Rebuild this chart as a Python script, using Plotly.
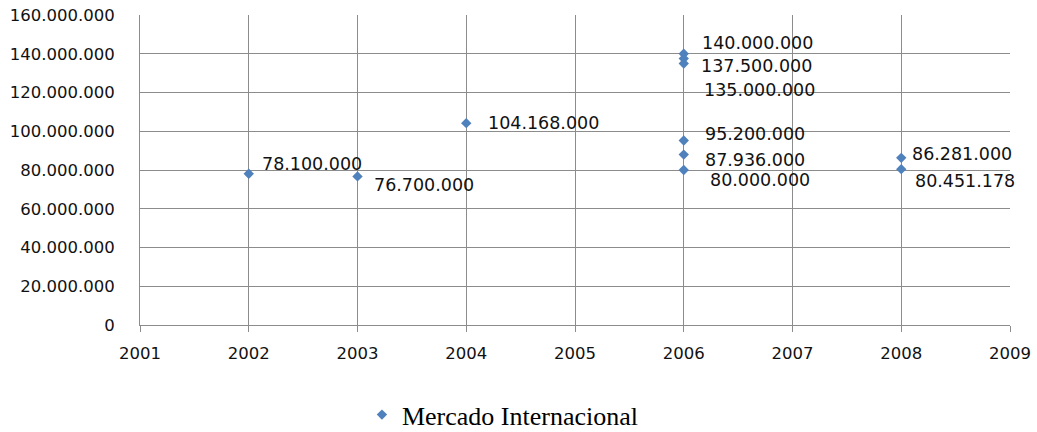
import plotly.graph_objects as go

# Data
years = [2002, 2003, 2004, 2006, 2006, 2006, 2006, 2006, 2006, 2008, 2008]
values = [78100000, 76700000, 104168000, 140000000, 137500000, 135000000,
          95200000, 87936000, 80000000, 86281000, 80451178]
series_name = "Mercado Internacional"
y_ticks = list(range(0, 160000001, 20000000))
x_ticks = list(range(2001, 2010))

# Label offsets in pixels (dx, dy) relative to each point
label_offsets = [(11, -10), (14, 9), (20, 0), (16, -11), (15, 7), (18, 27),
                 (19, -7), (19, 5), (24, 10), (9, -4), (12, 12)]


def fmt(v):
    return f"{v:,}".replace(",", ".")


BLUE = "#4F81BD"
GRID = "#8C8C8C"
FONT = "DejaVu Sans"

fig = go.Figure()
fig.add_trace(go.Scatter(
    x=years, y=values, mode="markers", name=series_name,
    marker=dict(symbol="diamond", size=8, color=BLUE),
    showlegend=True,
))

for x, y, (dx, dy) in zip(years, values, label_offsets):
    fig.add_annotation(
        x=x, y=y, text=fmt(y), showarrow=False,
        xanchor="left", yanchor="middle", xshift=dx, yshift=-dy,
        font=dict(family=FONT, size=17.5, color="#111111"),
    )

fig.update_layout(
    width=1037, height=432,
    margin=dict(l=140, r=27, t=15, b=107, autoexpand=False),
    paper_bgcolor="white", plot_bgcolor="white",
    xaxis=dict(
        range=[2001, 2009], tickvals=x_ticks, ticktext=[str(t) for t in x_ticks],
        showgrid=True, gridcolor=GRID, gridwidth=1,
        zeroline=False, showline=True, linecolor=GRID, linewidth=1,
        ticks="outside", ticklen=6, tickcolor=GRID, ticklabelstandoff=7,
        tickfont=dict(family=FONT, size=16.5, color="#111111"),
        automargin=False,
    ),
    yaxis=dict(
        range=[0, 160000000], tickvals=y_ticks, ticktext=[fmt(t) for t in y_ticks],
        showgrid=True, gridcolor=GRID, gridwidth=1,
        zeroline=False, showline=True, linecolor=GRID, linewidth=1,
        ticks="", ticklabelstandoff=21,
        tickfont=dict(family=FONT, size=16.5, color="#111111"),
        automargin=False,
    ),
    legend=dict(
        orientation="h", xref="container", yref="container",
        x=0.485, xanchor="center", y=0.04, yanchor="middle",
        font=dict(family="Liberation Serif", size=26, color="#000000"),
        itemwidth=30,
    ),
)

fig.write_html("out.html")
